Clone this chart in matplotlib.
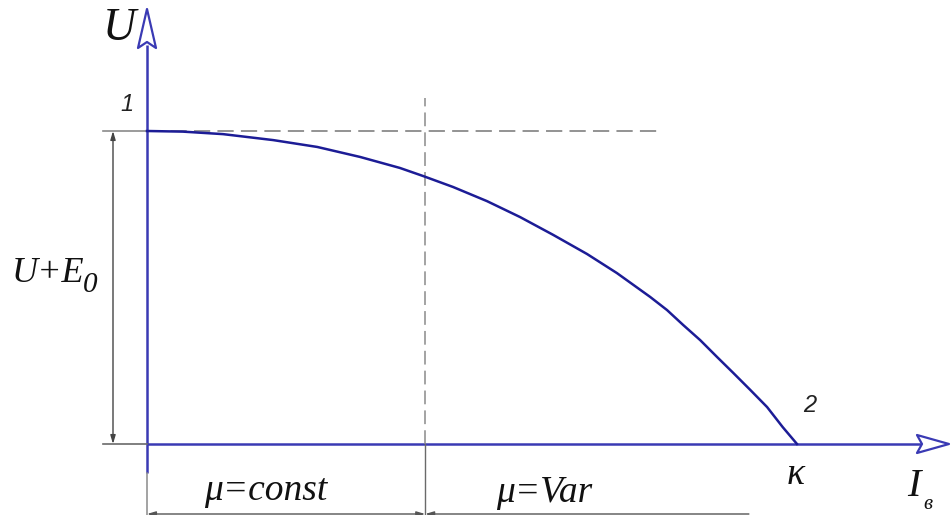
import matplotlib
matplotlib.use("Agg")
import matplotlib.pyplot as plt
from matplotlib.patches import Polygon

# ---- data (relative units: current I / I_k, voltage U / (U+E0)) ----
I_vals = [0.0, 0.055, 0.117, 0.194, 0.262, 0.328, 0.389, 0.425, 0.471, 0.523,
          0.574, 0.625, 0.677, 0.723, 0.774, 0.800, 0.825, 0.851, 0.877,
          0.902, 0.928, 0.954, 0.978, 1.0]
U_vals = [1.0, 0.998, 0.990, 0.971, 0.949, 0.917, 0.882, 0.856, 0.821, 0.776,
          0.725, 0.668, 0.607, 0.546, 0.470, 0.428, 0.380, 0.332, 0.278,
          0.227, 0.173, 0.118, 0.054, 0.0]
mu_split = 0.428          # boundary mu=const / mu=Var
dash_h_end = 0.789        # end of horizontal dashed line at U = 1
dim_end = 0.926           # end of lower dimension line
labels = {"U": "U", "I": "I", "Isub": "в", "k": "κ", "p1": "1", "p2": "2",
          "left": "U+E", "leftsub": "0", "mc": "μ=const", "mv": "μ=Var"}

W, H = 951, 515
X0, Y0 = 147, 444          # origin in pixels
SX, SY = 650, 313          # pixels per unit


def P(px, py):
    return ((px - X0) / SX, (Y0 - py) / SY)


fig = plt.figure(figsize=(W / 100, H / 100), dpi=100)
ax = fig.add_axes([0, 0, 1, 1])
ax.set_xlim(-X0 / SX, (W - X0) / SX)
ax.set_ylim(-(H - Y0) / SY, Y0 / SY)
ax.axis("off")

axis_c = "#3a3ab4"
curve_c = "#1c1c96"
grey = "#8a8a8a"
dim_c = "#6a6a6a"

# axes lines
ax.plot([0, 0], [P(0, 473)[1], P(0, 45)[1]], color=axis_c, lw=1.8, solid_capstyle="butt")
ax.plot([0, P(921, 0)[0]], [0, 0], color=axis_c, lw=1.8, solid_capstyle="butt")
# open arrowheads
ya = [P(147, 9), P(138, 48), P(147, 42), P(156, 48)]
ax.add_patch(Polygon(ya, closed=True, fill=False, edgecolor=axis_c, lw=1.6, joinstyle="round"))
xa = [P(949, 444), P(917, 435), P(922, 444), P(917, 453)]
ax.add_patch(Polygon(xa, closed=True, fill=False, edgecolor=axis_c, lw=1.6, joinstyle="round"))

# dashed helper lines
ax.plot([0, dash_h_end], [1, 1], color=grey, lw=1.3, dashes=(9, 4))
ax.plot([mu_split, mu_split], [0, P(0, 98)[1]], color=grey, lw=1.1, dashes=(9, 4))

# extension lines
xl = P(103, 0)[0]
ax.plot([xl, 0], [1, 1], color=grey, lw=1.2)
ax.plot([xl, 0], [0, 0], color=dim_c, lw=1.2)
yb = ax.get_ylim()[0]
ax.plot([0, 0], [P(0, 473)[1], yb], color=grey, lw=1.1)
ax.plot([mu_split, mu_split], [0, yb], color=dim_c, lw=1.0)

# dimension lines
xd = P(113, 0)[0]
ax.annotate("", xy=(xd, 1), xytext=(xd, 0),
            arrowprops=dict(arrowstyle="<|-|>,head_length=0.5,head_width=0.15",
                            color="#444444", lw=1.0, shrinkA=0, shrinkB=0))
ydim = P(0, 514)[1]
ax.annotate("", xy=(0, ydim), xytext=(mu_split, ydim),
            arrowprops=dict(arrowstyle="<|-|>,head_length=0.5,head_width=0.15",
                            color="#555555", lw=1.0, shrinkA=0, shrinkB=0))
ax.annotate("", xy=(mu_split, ydim), xytext=(dim_end, ydim),
            arrowprops=dict(arrowstyle="-|>,head_length=0.5,head_width=0.15",
                            color="#555555", lw=1.0, shrinkA=0, shrinkB=0))

# characteristic curve
ax.plot(I_vals, U_vals, color=curve_c, lw=1.8, solid_joinstyle="round")

# texts
serif = dict(family="Liberation Serif", style="italic", color="#111111")
sans = dict(family="Liberation Sans", style="italic", color="#222222")
ax.text(*P(119, 29), labels["U"], fontsize=33, ha="center", va="center", **serif)
ax.text(*P(127, 104), labels["p1"], fontsize=17, ha="center", va="center", **sans)
ax.text(*P(810, 405), labels["p2"], fontsize=17, ha="center", va="center", **sans)
ax.text(*P(12, 282), labels["left"], fontsize=26, ha="left", va="baseline", **serif)
ax.text(*P(83, 292), labels["leftsub"], fontsize=21, ha="left", va="baseline", **serif)
ax.text(*P(266, 500), labels["mc"], fontsize=27, ha="center", va="baseline", **serif)
ax.text(*P(544, 502), labels["mv"], fontsize=27, ha="center", va="baseline", **serif)
ax.text(*P(796, 484), labels["k"], fontsize=27, ha="center", va="baseline", **serif)
ax.text(*P(914, 496), labels["I"], fontsize=29, ha="center", va="baseline", **serif)
ax.text(*P(928, 509), labels["Isub"], fontsize=15, ha="center", va="baseline", **serif)

fig.savefig("out.png", dpi=100)
